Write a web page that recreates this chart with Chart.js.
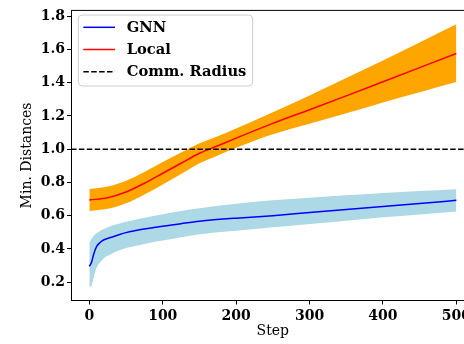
<!DOCTYPE html>
<html>
<head>
<meta charset="utf-8">
<script src="https://cdn.jsdelivr.net/npm/chart.js@4.4.1/dist/chart.umd.min.js"></script>
<style>
  html, body { margin: 0; padding: 0; background: #fff; overflow: hidden; }
  #wrap { width: 464px; height: 344px; overflow: hidden; position: relative; }
  #c { display: block; }
</style>
</head>
<body>
<div id="wrap"><canvas id="c" width="480" height="344" style="width:480px;height:344px"></canvas></div>
<script>
// Minimum inter-agent distance over the episode: GNN policy vs. local policy
const gnnSteps  = [0, 3, 6, 10, 15, 20, 30, 40, 50, 75, 100, 125, 150, 200, 250, 300, 350, 400, 450, 500];
const gnnMean   = [0.295, 0.32, 0.37, 0.415, 0.44, 0.455, 0.47, 0.485, 0.498, 0.52, 0.537, 0.552, 0.566, 0.585, 0.600, 0.619, 0.637, 0.655, 0.673, 0.692];
const gnnUpper  = [0.44, 0.46, 0.48, 0.495, 0.51, 0.52, 0.54, 0.552, 0.563, 0.587, 0.608, 0.628, 0.645, 0.672, 0.692, 0.708, 0.722, 0.736, 0.748, 0.759];
const gnnLower  = [0.169, 0.18, 0.23, 0.29, 0.32, 0.345, 0.37, 0.39, 0.405, 0.43, 0.45, 0.47, 0.489, 0.51, 0.53, 0.55, 0.57, 0.59, 0.607, 0.625];

const localSteps = [0, 25, 50, 75, 100, 125, 150, 175, 200, 250, 300, 350, 400, 450, 500];
const localMean  = [0.694, 0.708, 0.742, 0.795, 0.855, 0.915, 0.975, 1.02, 1.066, 1.155, 1.237, 1.32, 1.405, 1.49, 1.575];
const localUpper = [0.760, 0.775, 0.810, 0.863, 0.922, 0.979, 1.035, 1.078, 1.124, 1.221, 1.322, 1.427, 1.533, 1.641, 1.750];
const localLower = [0.628, 0.641, 0.674, 0.727, 0.788, 0.851, 0.915, 0.962, 1.008, 1.089, 1.152, 1.215, 1.280, 1.342, 1.403];

const commRadius = 1.0;

const xTicks = [0, 100, 200, 300, 400, 500];
const yTicks = [0.2, 0.4, 0.6, 0.8, 1.0, 1.2, 1.4, 1.6, 1.8];
const xRange = [-25, 525];
const yRange = [0.090, 1.834];

const pts = (xs, ys) => xs.map((x, i) => ({ x: x, y: ys[i] }));

const SERIF = '"DejaVu Serif", serif';
const tickFont = { family: SERIF, size: 14, weight: 'bold' };
const titleFont = { family: SERIF, size: 14, weight: 'normal' };

const lineBase = { pointRadius: 0, borderWidth: 1.5, fill: false, cubicInterpolationMode: 'monotone' };
const bandBase = { pointRadius: 0, borderWidth: 0, borderColor: 'rgba(0,0,0,0)', cubicInterpolationMode: 'monotone' };

// frame line on top + legend box in the upper-left corner
const framePlugin = {
  id: 'frame',
  afterDraw(chart) {
    const { ctx, chartArea } = chart;
    ctx.save();
    ctx.strokeStyle = '#000';
    ctx.lineWidth = 1;
    ctx.beginPath();
    ctx.moveTo(chartArea.left, chartArea.top);
    ctx.lineTo(chartArea.right, chartArea.top);
    ctx.stroke();

    // legend
    const bx = 78.3, by = 15, bw = 174.4, bh = 71, r = 4;
    ctx.beginPath();
    ctx.moveTo(bx + r, by);
    ctx.lineTo(bx + bw - r, by);
    ctx.quadraticCurveTo(bx + bw, by, bx + bw, by + r);
    ctx.lineTo(bx + bw, by + bh - r);
    ctx.quadraticCurveTo(bx + bw, by + bh, bx + bw - r, by + bh);
    ctx.lineTo(bx + r, by + bh);
    ctx.quadraticCurveTo(bx, by + bh, bx, by + bh - r);
    ctx.lineTo(bx, by + r);
    ctx.quadraticCurveTo(bx, by, bx + r, by);
    ctx.closePath();
    ctx.fillStyle = 'rgba(255,255,255,0.8)';
    ctx.fill();
    ctx.strokeStyle = '#cccccc';
    ctx.lineWidth = 1;
    ctx.stroke();

    const entries = chart.data.datasets.filter(d => d.inLegend);
    entries.forEach((d, i) => {
      const y = 27.3 + i * 22.2;
      ctx.beginPath();
      ctx.setLineDash(d.borderDash || []);
      ctx.strokeStyle = d.borderColor;
      ctx.lineWidth = d.borderWidth;
      ctx.moveTo(83.3, y);
      ctx.lineTo(115, y);
      ctx.stroke();
      ctx.setLineDash([]);
      ctx.fillStyle = '#000';
      ctx.font = 'bold 14.7px ' + SERIF;
      ctx.textBaseline = 'middle';
      ctx.textAlign = 'left';
      ctx.fillText(d.label, 126.7, y + 0.5);
    });
    ctx.restore();
  }
};

new Chart(document.getElementById('c'), {
  type: 'line',
  data: {
    datasets: [
      Object.assign({}, lineBase, { label: 'GNN', inLegend: true, data: pts(gnnSteps, gnnMean), borderColor: '#0000ff', order: 2 }),
      Object.assign({}, lineBase, { label: 'Local', inLegend: true, data: pts(localSteps, localMean), borderColor: '#ff0000', order: 1 }),
      { label: 'Comm. Radius', inLegend: true, data: pts(xRange, [commRadius, commRadius]),
        borderColor: '#000000', borderWidth: 1.5, borderDash: [5.5, 2.4], pointRadius: 0, fill: false, order: 0 },
      Object.assign({}, bandBase, { label: 'GNN upper', data: pts(gnnSteps, gnnUpper), fill: '+1', backgroundColor: '#add8e6', order: 4 }),
      Object.assign({}, bandBase, { label: 'GNN lower', data: pts(gnnSteps, gnnLower), fill: false, order: 4 }),
      Object.assign({}, bandBase, { label: 'Local upper', data: pts(localSteps, localUpper), fill: '+1', backgroundColor: '#ffa500', order: 3 }),
      Object.assign({}, bandBase, { label: 'Local lower', data: pts(localSteps, localLower), fill: false, order: 3 })
    ]
  },
  options: {
    responsive: false,
    animation: false,
    devicePixelRatio: 1,
    layout: { padding: { top: 8.3, right: 5.3, bottom: 0, left: 0 } },
    plugins: {
      legend: { display: false },
      tooltip: { enabled: false },
      filler: { propagate: false }
    },
    scales: {
      x: {
        type: 'linear',
        min: xRange[0],
        max: xRange[1],
        afterBuildTicks: s => { s.ticks = xTicks.map(v => ({ value: v })); },
        afterFit: s => { s.height = 43.5; },
        ticks: { font: tickFont, color: '#000', padding: 3, maxRotation: 0, callback: v => String(v) },
        grid: { drawOnChartArea: false, drawTicks: true, tickLength: 4, tickColor: '#000', tickWidth: 1 },
        border: { display: true, color: '#000', width: 1 },
        title: { display: true, text: 'Step', font: titleFont, color: '#000', padding: { top: 0, bottom: 4.6 } }
      },
      y: {
        type: 'linear',
        min: yRange[0],
        max: yRange[1],
        afterBuildTicks: s => { s.ticks = yTicks.map(v => ({ value: v })); },
        afterFit: s => { s.width = 71; },
        ticks: { font: tickFont, color: '#000', padding: 2, callback: v => Number(v).toFixed(1) },
        grid: { drawOnChartArea: false, drawTicks: true, tickLength: 4, tickColor: '#000', tickWidth: 1 },
        border: { display: true, color: '#000', width: 1 },
        title: { display: true, text: 'Min. Distances', font: titleFont, color: '#000', padding: { top: 18.6, bottom: 0 } }
      }
    }
  },
  plugins: [framePlugin]
});
</script>
</body>
</html>
